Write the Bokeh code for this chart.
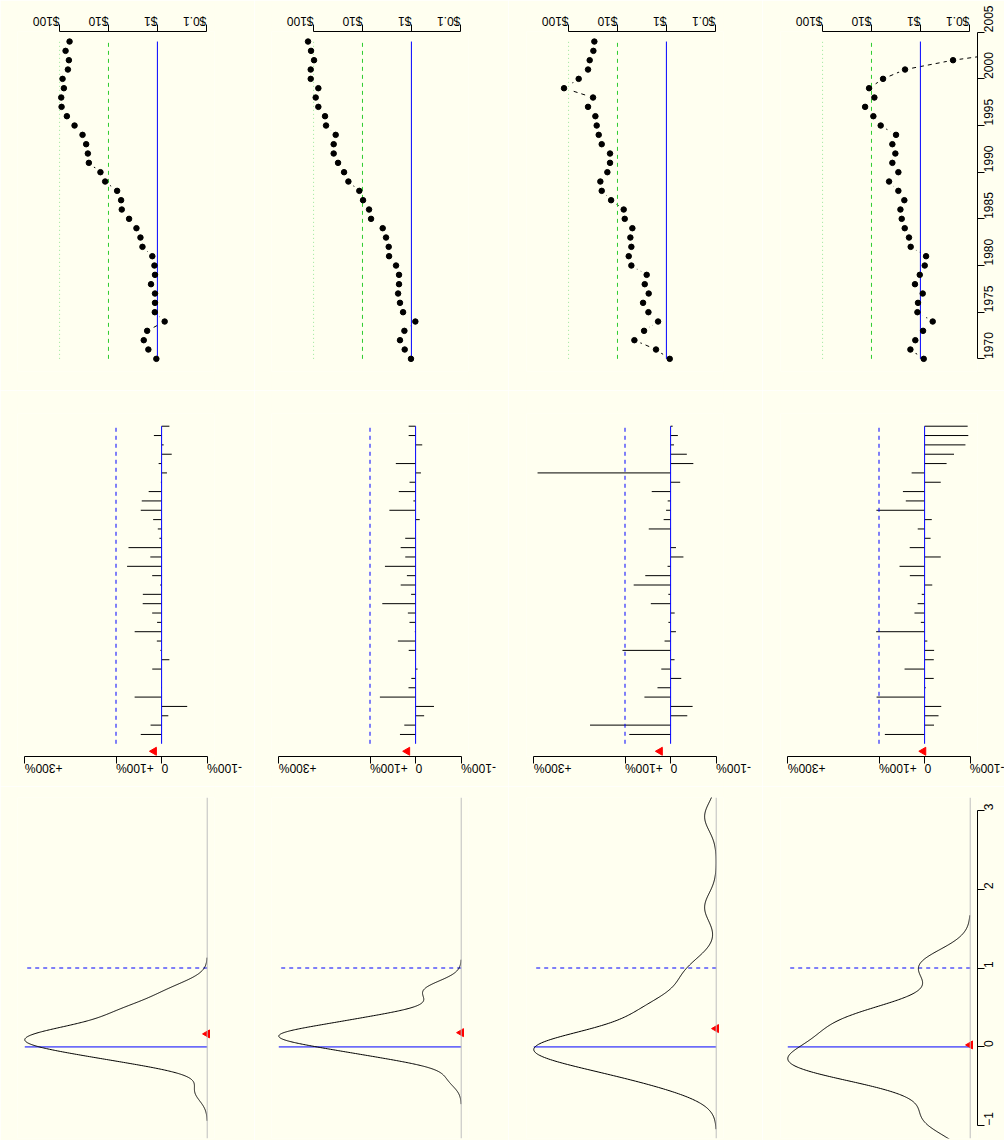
import math
import numpy as np
from bokeh.plotting import figure
from bokeh.layouts import column, row
from bokeh.models import Range1d, FixedTicker, LinearAxis, Span
from bokeh.embed import file_html
from bokeh.resources import INLINE

BG = "#FFFFF0"
BLUE = "#0000FF"
GREEN = "#2ECC2E"
LIGHT_GREEN = "#99E699"
GRAY = "#BEBEBE"

# ---- data -------------------------------------------------------------
years = list(range(1970, 2005))
year_ticks = [1970, 1975, 1980, 1985, 1990, 1995, 2000, 2005]
price_ticks = [0.1, 1, 10, 100]
price_labels = ["$0.1", "$1", "$10", "$100"]
return_ticks = [-1, 0, 1, 3]
return_labels = ["-100%", "0", "+100%", "+300%"]
density_ticks = [-1, 0, 1, 2, 3]
guide_levels = [1, 10, 100]          # $1, $10, $100 guide lines
return_guides = [0, 1]               # 0% and +100%

# year-end prices, 1970..2004, one list per stock
price_a = [1.05, 1.53, 1.90, 1.62, 0.71, 1.13, 1.12, 1.12, 1.35, 1.12,
           1.15, 1.27, 2.02, 2.22, 2.68, 3.79, 5.35, 5.52, 6.66, 11.7,
           14.6, 25.2, 26.4, 28.6, 33.9, 49.4, 70.9, 91.0, 92.5, 81.6,
           86.9, 67.6, 64.5, 75.4, 62.5]
price_b = [1.02, 1.37, 1.71, 1.39, 0.83, 1.48, 1.71, 1.87, 1.79, 1.79,
           2.06, 2.86, 2.91, 3.30, 3.86, 6.68, 7.34, 9.74, 11.6, 19.4,
           23.8, 31.6, 38.8, 38.8, 35.3, 55.6, 58.3, 79.8, 90.4, 79.8,
           114.4, 114.4, 97.8, 112.7, 129.8]
price_c = [0.855, 1.63, 4.51, 2.86, 1.48, 2.33, 3.00, 2.30, 2.77, 2.53,
           5.20, 5.89, 5.20, 5.45, 4.96, 7.11, 7.46, 13.5, 21.0, 22.4,
           16.1, 14.2, 14.2, 21.0, 24.2, 26.6, 28.3, 40.0, 31.6, 123.8,
           62.1, 40.0, 37.0, 31.1, 29.7]
price_d = [0.855, 1.60, 1.27, 0.882, 0.560, 1.15, 1.12, 0.896, 1.29, 1.03,
           0.815, 0.766, 1.58, 1.71, 2.09, 2.41, 2.56, 2.13, 2.82, 4.37,
           2.82, 3.74, 3.25, 3.74, 3.15, 6.48, 9.15, 13.5, 8.72, 11.2,
           5.80, 2.06, 0.215, 0.009, 0.0005]
stocks = [price_a, price_b, price_c, price_d]

# ---- geometry ---------------------------------------------------------
col_widths = [254, 254, 254, 242]
left_borders = [17, 17, 18, 18]
FRAME_W = 197
PRICE_DECADES = (2.86, -1.1675)      # visible span of log10(price), left to right


def kde(sample, n=512):
    """Gaussian kernel density with the nrd0 rule-of-thumb bandwidth."""
    x = np.asarray(sample, dtype=float)
    q75, q25 = np.percentile(x, [75, 25])
    spread = min(x.std(ddof=1), (q75 - q25) / 1.34)
    bw = 0.9 * spread * len(x) ** -0.2
    grid = np.linspace(x.min() - 3 * bw, x.max() + 3 * bw, n)
    z = (grid[:, None] - x[None, :]) / bw
    dens = np.exp(-0.5 * z ** 2).sum(axis=1) / (len(x) * bw * math.sqrt(2 * math.pi))
    return grid, dens


def panel(ci, height, top, bottom, x_range, y_range):
    p = figure(width=col_widths[ci], height=height,
               x_range=x_range, y_range=y_range,
               x_axis_location=None, y_axis_location=None,
               toolbar_location=None, output_backend="svg",
               min_border_left=left_borders[ci],
               min_border_right=col_widths[ci] - left_borders[ci] - FRAME_W,
               min_border_top=top, min_border_bottom=bottom,
               background_fill_color=BG, border_fill_color=BG,
               outline_line_color=None)
    p.grid.visible = False
    return p


def style_axis(ax, orientation):
    ax.axis_line_color = "black"
    ax.major_tick_line_color = "black"
    ax.major_tick_in = 0
    ax.major_tick_out = 7
    ax.minor_tick_in = 0
    ax.minor_tick_out = 0
    ax.major_label_text_font = "Liberation Sans"
    ax.major_label_text_font_size = "12px"
    ax.major_label_text_color = "black"
    ax.major_label_standoff = 4
    ax.major_label_orientation = orientation
    return ax


price_row, return_row, density_row = [], [], []
span_years = [years[0], years[-1]]
log_ticks = [math.log10(t) for t in price_ticks]
log_guides = [math.log10(g) for g in guide_levels]

for ci, prices in enumerate(stocks):
    pr = np.array(prices, dtype=float)
    log_pr = np.log10(pr)
    rets = pr[1:] / pr[:-1] - 1
    ret_years = years[1:]
    mean_ret = float(rets.mean())
    grid, dens = kde(rets)
    dmax = float(dens.max())

    # -- price history, dollar axis in decades
    p = panel(ci, 390, 31, 19, Range1d(*PRICE_DECADES), Range1d(1968.645, 2005.075))
    p.line(log_pr, years, line_color="black", line_dash="4 4", line_width=1)
    p.scatter(log_pr, years, size=13, fill_color=BG, line_color=None)
    p.line([log_guides[0]] * 2, span_years, line_color=BLUE, line_width=1)
    p.line([log_guides[1]] * 2, span_years, line_color=GREEN, line_dash="4 4", line_width=1)
    p.line([log_guides[2]] * 2, span_years, line_color=LIGHT_GREEN, line_dash="1 3", line_width=1)
    p.scatter(log_pr, years, size=5.5, color="black")
    ax = LinearAxis(ticker=FixedTicker(ticks=log_ticks),
                    major_label_overrides=dict(zip(log_ticks, price_labels)),
                    bounds=(log_ticks[0], log_ticks[-1]))
    p.add_layout(style_axis(ax, math.pi), "above")
    if ci == len(stocks) - 1:
        yax = LinearAxis(ticker=FixedTicker(ticks=year_ticks),
                         bounds=(year_ticks[0], year_ticks[-1]))
        p.add_layout(style_axis(yax, math.pi / 2), "right")
    price_row.append(p)

    # -- yearly returns
    q = panel(ci, 396, 23, 30, Range1d(3.16, -1.16), Range1d(1968.64, 2005.36))
    q.segment(x0=0, y0=ret_years, x1=rets, y1=ret_years, line_color="black", line_width=1)
    q.line([return_guides[0]] * 2, span_years, line_color=BLUE, line_width=1)
    q.line([return_guides[1]] * 2, span_years, line_color=BLUE, line_dash="4 4", line_width=1)
    q.scatter([mean_ret], [1969.2], marker="triangle", angle=math.pi / 2,
              size=8, color="red")
    rax = LinearAxis(ticker=FixedTicker(ticks=return_ticks),
                     major_label_overrides=dict(zip(return_ticks, return_labels)),
                     bounds=(return_ticks[0], return_ticks[-1]))
    q.add_layout(style_axis(rax, math.pi), "below")
    return_row.append(q)

    # -- density of the yearly returns
    d = panel(ci, 354, 11, 2, Range1d(dmax * 1.04, -0.04 * dmax), Range1d(-1.16, 3.16))
    d.add_layout(Span(location=0, dimension="height", line_color=GRAY, line_width=1))
    d.line([0, dmax], [return_guides[0]] * 2, line_color=BLUE, line_width=1)
    d.line([0, dmax], [return_guides[1]] * 2, line_color=BLUE, line_dash="4 4", line_width=1)
    d.line(dens, grid, line_color="black", line_width=1)
    d.scatter([0], [mean_ret], marker="triangle", angle=math.pi / 2, size=8, color="red")
    if ci == len(stocks) - 1:
        dax = LinearAxis(ticker=FixedTicker(ticks=density_ticks),
                         bounds=(density_ticks[0], density_ticks[-1]))
        d.add_layout(style_axis(dax, math.pi / 2), "right")
    density_row.append(d)

layout = column(row(*price_row, spacing=0),
                row(*return_row, spacing=0),
                row(*density_row, spacing=0), spacing=0)

with open("out.html", "w") as f:
    f.write(file_html(layout, INLINE))
